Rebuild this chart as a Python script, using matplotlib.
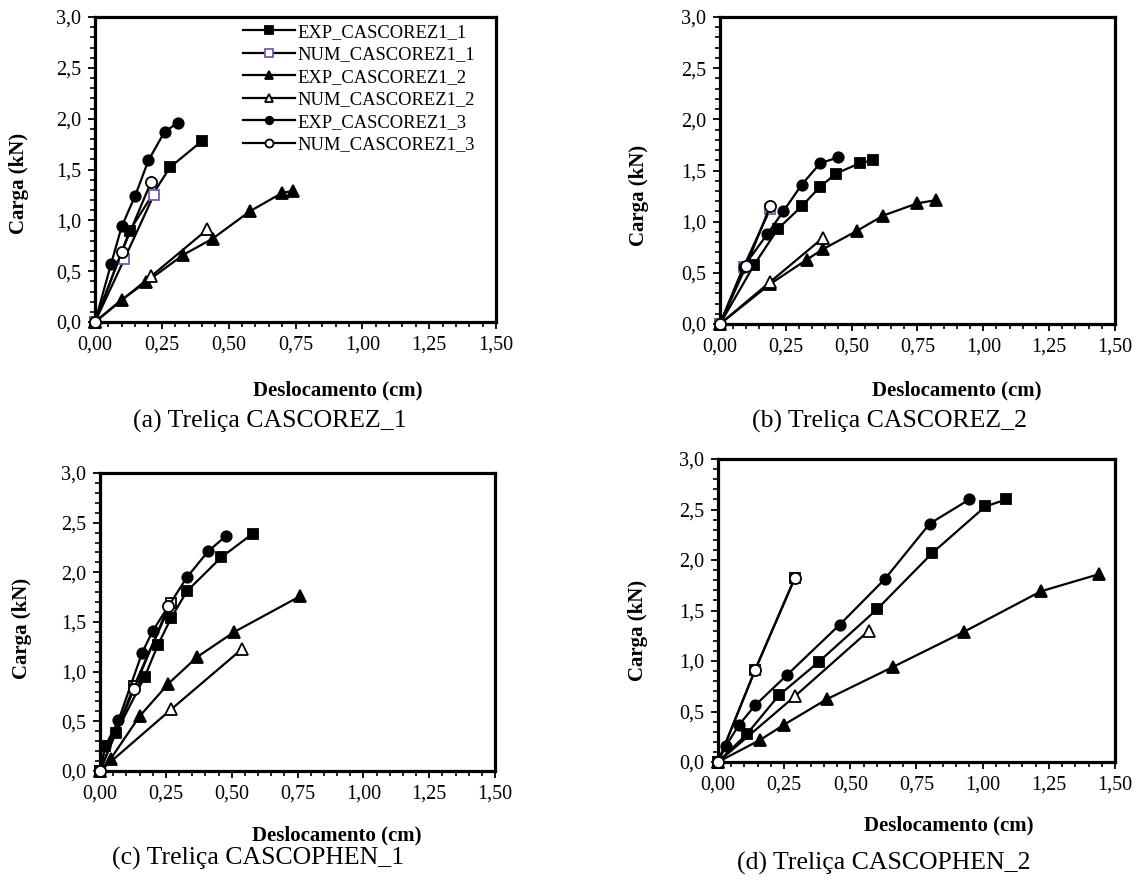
import matplotlib
matplotlib.use("Agg")
import matplotlib.pyplot as plt
from matplotlib.ticker import MultipleLocator, FuncFormatter

plt.rcParams['font.family'] = ['Liberation Serif', 'DejaVu Serif']

# ---------------- data (displacement cm, load kN) ----------------
series_names = ["EXP_CASCOREZ1_1", "NUM_CASCOREZ1_1", "EXP_CASCOREZ1_2",
                "NUM_CASCOREZ1_2", "EXP_CASCOREZ1_3", "NUM_CASCOREZ1_3"]

a_exp1_x = [0, 0.13, 0.28, 0.40];                       a_exp1_y = [0, 0.90, 1.52, 1.78]
a_num1_x = [0, 0.11, 0.22];                             a_num1_y = [0, 0.62, 1.25]
a_exp2_x = [0, 0.10, 0.19, 0.33, 0.44, 0.58, 0.70, 0.74]; a_exp2_y = [0, 0.22, 0.39, 0.66, 0.82, 1.09, 1.27, 1.29]
a_num2_x = [0, 0.21, 0.42];                             a_num2_y = [0, 0.45, 0.91]
a_exp3_x = [0, 0.06, 0.10, 0.15, 0.20, 0.26, 0.31];     a_exp3_y = [0, 0.57, 0.94, 1.24, 1.59, 1.87, 1.96]
a_num3_x = [0, 0.10, 0.21];                             a_num3_y = [0, 0.69, 1.38]

b_exp1_x = [0, 0.13, 0.22, 0.31, 0.38, 0.44, 0.53, 0.58]; b_exp1_y = [0, 0.58, 0.93, 1.15, 1.34, 1.47, 1.57, 1.60]
b_num1_x = [0, 0.09, 0.19];                             b_num1_y = [0, 0.56, 1.12]
b_exp2_x = [0, 0.19, 0.33, 0.39, 0.52, 0.62, 0.75, 0.82]; b_exp2_y = [0, 0.39, 0.63, 0.73, 0.91, 1.06, 1.18, 1.21]
b_num2_x = [0, 0.19, 0.39];                             b_num2_y = [0, 0.41, 0.84]
b_exp3_x = [0, 0.09, 0.18, 0.24, 0.31, 0.38, 0.45];     b_exp3_y = [0, 0.56, 0.88, 1.10, 1.36, 1.57, 1.63]
b_num3_x = [0, 0.10, 0.19];                             b_num3_y = [0, 0.57, 1.15]

c_exp1_x = [0, 0.02, 0.06, 0.17, 0.22, 0.27, 0.33, 0.46, 0.58]; c_exp1_y = [0, 0.25, 0.38, 0.95, 1.27, 1.54, 1.81, 2.15, 2.39]
c_num1_x = [0, 0.13, 0.27];                             c_num1_y = [0, 0.86, 1.69]
c_exp2_x = [0, 0.04, 0.15, 0.26, 0.37, 0.51, 0.76];     c_exp2_y = [0, 0.12, 0.55, 0.88, 1.15, 1.40, 1.76]
c_num2_x = [0, 0.27, 0.54];                             c_num2_y = [0, 0.62, 1.23]
c_exp3_x = [0, 0.02, 0.07, 0.16, 0.20, 0.33, 0.41, 0.48]; c_exp3_y = [0, 0.25, 0.51, 1.19, 1.41, 1.95, 2.21, 2.37]
c_num3_x = [0, 0.13, 0.26];                             c_num3_y = [0, 0.83, 1.66]

d_exp1_x = [0, 0.11, 0.23, 0.38, 0.60, 0.81, 1.01, 1.09]; d_exp1_y = [0, 0.28, 0.66, 0.99, 1.51, 2.07, 2.53, 2.60]
d_num1_x = [0, 0.14, 0.29];                             d_num1_y = [0, 0.91, 1.82]
d_exp2_x = [0, 0.16, 0.25, 0.41, 0.66, 0.93, 1.22, 1.44]; d_exp2_y = [0, 0.22, 0.37, 0.62, 0.94, 1.29, 1.69, 1.86]
d_num2_x = [0, 0.29, 0.57];                             d_num2_y = [0, 0.65, 1.30]
d_exp3_x = [0, 0.03, 0.08, 0.14, 0.26, 0.46, 0.63, 0.80, 0.95]; d_exp3_y = [0, 0.16, 0.37, 0.56, 0.86, 1.36, 1.81, 2.36, 2.60]
d_num3_x = [0, 0.14, 0.29];                             d_num3_y = [0, 0.91, 1.82]

captions = ["(a) Treliça CASCOREZ_1", "(b) Treliça CASCOREZ_2",
            "(c) Treliça CASCOPHEN_1", "(d) Treliça CASCOPHEN_2"]
xlabel_text = "Deslocamento (cm)"
ylabel_text = "Carga (kN)"

panels = [
    [(a_exp1_x, a_exp1_y), (a_num1_x, a_num1_y), (a_exp2_x, a_exp2_y),
     (a_num2_x, a_num2_y), (a_exp3_x, a_exp3_y), (a_num3_x, a_num3_y)],
    [(b_exp1_x, b_exp1_y), (b_num1_x, b_num1_y), (b_exp2_x, b_exp2_y),
     (b_num2_x, b_num2_y), (b_exp3_x, b_exp3_y), (b_num3_x, b_num3_y)],
    [(c_exp1_x, c_exp1_y), (c_num1_x, c_num1_y), (c_exp2_x, c_exp2_y),
     (c_num2_x, c_num2_y), (c_exp3_x, c_exp3_y), (c_num3_x, c_num3_y)],
    [(d_exp1_x, d_exp1_y), (d_num1_x, d_num1_y), (d_exp2_x, d_exp2_y),
     (d_num2_x, d_num2_y), (d_exp3_x, d_exp3_y), (d_num3_x, d_num3_y)],
]

# ---------------- layout (pixels) ----------------
W, H = 1142, 882
axes_px = [(95, 17, 496, 322), (720, 17, 1115, 324),
           (100, 473, 495, 771), (718, 459, 1115, 762)]
xlabel_px = [(338, 390), (957, 390), (337, 835), (949, 825)]
ylabel_px = [(19, 183), (639, 195), (22, 628), (638, 630)]
caption_px = [(270, 421), (889, 421), (258, 858), (884, 863)]

purple = '#7b5aa6'
styles = [
    dict(marker='s', mfc='black', mec='black', ms=7.5),
    dict(marker='s', mfc='white', mec=purple, ms=7.5),
    dict(marker='^', mfc='black', mec='black', ms=8.5),
    dict(marker='^', mfc='white', mec='black', ms=8.5),
    dict(marker='o', mfc='black', mec='black', ms=7.5),
    dict(marker='o', mfc='white', mec='black', ms=8),
]

fig = plt.figure(figsize=(W / 100, H / 100), dpi=100)
fmt_x = FuncFormatter(lambda v, p: f"{v:.2f}".replace('.', ','))
fmt_y = FuncFormatter(lambda v, p: f"{v:.1f}".replace('.', ','))

for i, (l, t, r, b) in enumerate(axes_px):
    ax = fig.add_axes([l / W, 1 - b / H, (r - l) / W, (b - t) / H])
    for j, (xs, ys) in enumerate(panels[i]):
        st = dict(styles[j])
        if j == 1 and i >= 2:
            st['mec'] = 'black'
        ax.plot(xs, ys, color='black', lw=1.6, mew=1.3, clip_on=False,
                label=series_names[j], zorder=3 + j, **st)
    ax.set_xlim(0, 1.5)
    ax.set_ylim(0, 3.0)
    ax.xaxis.set_major_locator(MultipleLocator(0.25))
    ax.xaxis.set_minor_locator(MultipleLocator(0.05))
    ax.yaxis.set_major_locator(MultipleLocator(0.5))
    ax.yaxis.set_minor_locator(MultipleLocator(0.1))
    ax.xaxis.set_major_formatter(fmt_x)
    ax.yaxis.set_major_formatter(fmt_y)
    ax.tick_params(which='major', direction='out', length=5, width=1.3,
                   labelsize=14.5, pad=5, color='black')
    ax.tick_params(which='minor', direction='out', length=3.5, width=1.2,
                   color='black')
    for sp in ax.spines.values():
        sp.set_linewidth(2.3)
        sp.set_zorder(2)
    if i == 0:
        leg = ax.legend(loc='upper left', bbox_to_anchor=(0.369, 0.978),
                        frameon=False, fontsize=13.3, handlelength=2.8,
                        handletextpad=0.15, labelspacing=0.3, borderpad=0,
                        borderaxespad=0, markerscale=0.72)
    xl, yl = xlabel_px[i]
    fig.text(xl / W, 1 - yl / H, xlabel_text, ha='center', va='center',
             fontsize=15, fontweight='bold')
    yx, yy = ylabel_px[i]
    fig.text(yx / W, 1 - yy / H, ylabel_text, ha='center', va='center',
             fontsize=15, fontweight='bold', rotation=90)
    cx, cy = caption_px[i]
    fig.text(cx / W, 1 - cy / H, captions[i], ha='center', va='center',
             fontsize=18.5)

fig.savefig('out.png', dpi=100)
